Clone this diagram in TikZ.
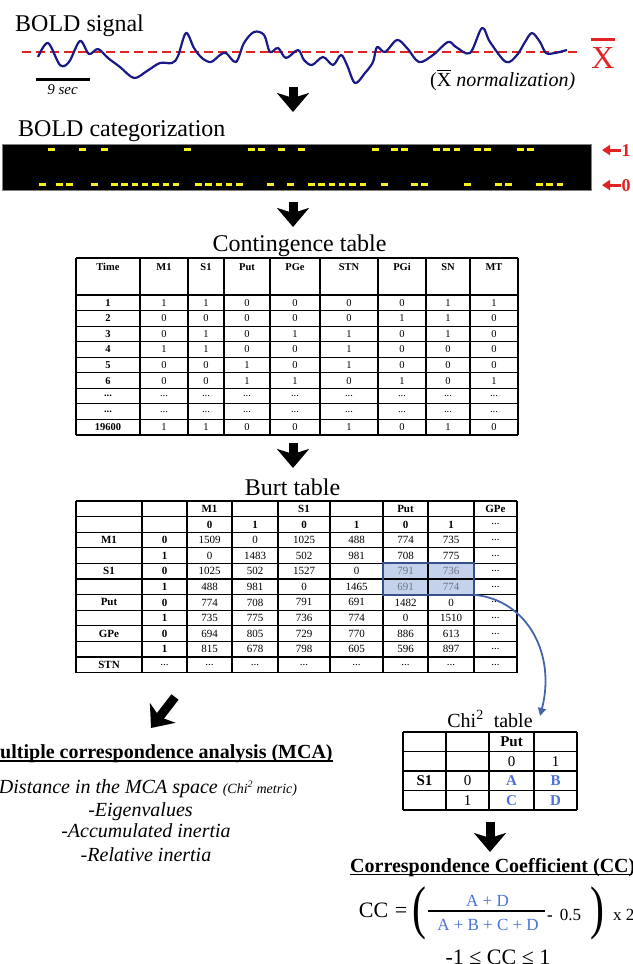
\documentclass[tikz,border=0pt]{standalone}
\usepackage{fontspec}
\usepackage{graphicx}
\setmainfont{Liberation Serif}
\usetikzlibrary{positioning,calc,arrows.meta}
\definecolor{SignalNavy}{RGB}{25,25,135}
\definecolor{MeanRed}{RGB}{225,35,35}
\definecolor{CatYellow}{RGB}{245,240,30}
\definecolor{LinkBlue}{RGB}{70,100,170}
\definecolor{CellBlue}{RGB}{196,210,236}
\definecolor{FrameBlue}{RGB}{55,80,140}
\definecolor{DimGray}{RGB}{110,115,130}
\definecolor{LetterBlue}{RGB}{75,115,215}
\newcommand{\fsz}[1]{\fontsize{#1}{#1}\selectfont}
\newcommand{\elide}{...}
\newcommand{\dimv}[1]{\textcolor{DimGray}{#1}}
\newcommand{\abcd}[1]{\textbf{\textcolor{LetterBlue}{#1}}}
\newcommand{\meanX}[2]{\vbox{\hrule height #1\kern #2\hbox{X}}}
\newcommand{\colx}[2]{\csname #1col#2\endcsname}

\begin{document}
\begin{tikzpicture}[
    x=1pt, y=-1pt,
    lbl/.style={inner sep=0pt, anchor=base},
    cell/.style={inner sep=0pt, font=\fsz{10.5}},
    grid/.style={line width=1.1pt},
    bigparen/.style={inner sep=0pt, font=\fsz{38}},
    bigarrow/.style={-{Stealth[length=19pt,width=32pt,inset=5pt]}, line width=9pt},
    levelarrow/.style={-{Triangle[length=8pt,width=10pt]}, line width=3pt, draw=MeanRed},
    linkarrow/.style={-{Triangle[length=8pt,width=8pt]}, line width=1.8pt, draw=LinkBlue},
    catdash/.style={draw=CatYellow, line width=3pt, dash pattern=on 6.5pt off 3.8pt}
]
\useasboundingbox (0,0) rectangle (632,964);
\clip (0,0) rectangle (632,964);

\foreach \xc [count=\c] in {108,164,206,247,295,349,402,448,494}
    {\expandafter\xdef\csname ctcol\c\endcsname{\xc}}
\foreach \xc [count=\c] in {109,164.5,209.5,255,304,356.5,405.5,451,495.5}
    {\expandafter\xdef\csname btcol\c\endcsname{\xc}}
\foreach \xc [count=\c] in {424.5,467.5,511.5,555.5}
    {\expandafter\xdef\csname chcol\c\endcsname{\xc}}

\node[lbl, anchor=base west, font=\fsz{24}] (sigtitle) at (15,31) {BOLD signal};
\draw[MeanRed, line width=2pt, dash pattern=on 9pt off 5pt] (22,52) -- (577,52);
\draw[SignalNavy, line width=2.2pt, line join=round] plot[smooth, tension=0.55] coordinates {
    (38,57) (48,43) (60,65) (69,62) (80,41) (89,54) (98,49) (108,58) (120,67) (134,78)
    (147,71) (160,63) (172,63) (178,56) (186,33) (194,48) (202,58) (211,62) (220,55) (226,53)
    (236,62) (244,43) (254,32) (264,35) (270,52) (278,48) (286,58) (298,50) (304,60) (312,65)
    (323,57) (333,65) (341,55) (347,65) (355,83) (365,73) (373,62) (377,47) (385,52) (397,40)
    (407,48) (419,62) (433,55) (448,42) (456,47) (470,53) (482,28) (490,42) (506,62) (517,55)
    (525,42) (532,33) (540,42) (546,53) (555,53) (567,50)};
\node[lbl, font=\fsz{32}, text=MeanRed] (xbar) at (603,68) {\meanX{3pt}{6pt}};
\draw[line width=3pt] (36,79) -- (90,79);
\node[lbl, font=\fsz{15}\itshape] (tsec) at (62.5,94) {9 sec};
\node[lbl, anchor=base west, font=\fsz{20}] (norm) at (430,86) {(\meanX{1.3pt}{1.5pt} \textit{normalization)}};

\coordinate (a1s) at (293,87);
\coordinate (a1e) at (293,112);
\draw[bigarrow] (a1s) -- (a1e);

\node[lbl, anchor=base west, font=\fsz{24}] (cattitle) at (18,136) {BOLD categorization};
\node[draw=gray, fill=black, line width=0.6pt, minimum width=589pt, minimum height=46pt, inner sep=0pt] (band) at (296.5,167) {};
\foreach \s/\n in {48/1,79/1,101/1,184/1,248/2,278/1,298/1,372/1,391/2,433/3,474/2,517/2}
    \draw[catdash] (\s,149) -- ({\s+10.3*(\n-1)+6.5},149);
\foreach \s/\n in {39/1,56/2,91/1,111/7,195/5,267/1,287/1,308/6,381/1,411/2,464/1,495/2,536/3}
    \draw[catdash] (\s,184) -- ({\s+10.3*(\n-1)+6.5},184);
\node[lbl, anchor=base west, font=\fsz{18}\bfseries, text=MeanRed] (lvlone) at (621.5,156) {1};
\node[lbl, anchor=base west, font=\fsz{18}\bfseries, text=MeanRed] (lvlzero) at (621.5,191) {0};
\coordinate (tipone) at (602,150);
\coordinate (tipzero) at (602,185);
\draw[levelarrow] ([xshift=-1pt]lvlone.west) -- (tipone |- lvlone.west);
\draw[levelarrow] ([xshift=-1pt]lvlzero.west) -- (tipzero |- lvlzero.west);

\coordinate (a2s) at (293,202);
\coordinate (a2e) at (293,227);
\draw[bigarrow] (a2s) -- (a2e);

\node[lbl, font=\fsz{24}] (cttitle) at (299.5,251) {Contingence table};
\foreach \x in {76,140,188,224,270,320,378,426,470,518}
    \draw[grid] (\x,258) -- (\x,435);
\draw[grid] (76,258) -- (518,258);
\foreach \i in {0,...,9}
    \draw[grid] (76,{295+15.56*\i}) -- (518,{295+15.56*\i});
\foreach \v [count=\c] in {Time,M1,S1,Put,PGe,STN,PGi,SN,MT} {
    \edef\xc{\colx{ct}{\c}}
    \node[cell, font=\fsz{10.5}\bfseries] (ct-0-\c) at (\xc,267) {\v};
}
\foreach \rowdata [count=\r] in {
    {\textbf{1},1,1,0,0,0,0,1,1},
    {\textbf{2},0,0,0,0,0,1,1,0},
    {\textbf{3},0,1,0,1,1,0,1,0},
    {\textbf{4},1,1,0,0,1,0,0,0},
    {\textbf{5},0,0,1,0,1,0,0,0},
    {\textbf{6},0,0,1,1,0,1,0,1},
    {\textbf{\elide},\elide,\elide,\elide,\elide,\elide,\elide,\elide,\elide},
    {\textbf{\elide},\elide,\elide,\elide,\elide,\elide,\elide,\elide,\elide},
    {\textbf{19600},1,1,0,0,1,0,1,0}} {
    \foreach \v [count=\c] in \rowdata {
        \edef\xc{\colx{ct}{\c}}
        \node[cell] (ct-\r-\c) at (\xc,{295+15.56*(\r-0.5)}) {\v};
    }
}

\coordinate (a3s) at (293,443);
\coordinate (a3e) at (293,468);
\draw[bigarrow] (a3s) -- (a3e);

\node[lbl, font=\fsz{24}] (bttitle) at (292.5,495) {Burt table};
\node[fill=CellBlue, minimum width=91pt, minimum height=31.2pt, inner sep=0pt] (hl) at (428.5,579) {};
\foreach \x in {76,142,187,232,278,330,383,428,474,517}
    \draw[grid] (\x,501) -- (\x,672.6);
\foreach \i in {0,...,11}
    \draw[grid] (76,{501+15.6*\i}) -- (517,{501+15.6*\i});
\foreach \rowdata [count=\r] in {
    {{},{},\textbf{M1},{},\textbf{S1},{},\textbf{Put},{},\textbf{GPe}},
    {{},{},\textbf{0},\textbf{1},\textbf{0},\textbf{1},\textbf{0},\textbf{1},\elide},
    {\textbf{M1},\textbf{0},1509,0,1025,488,774,735,\elide},
    {{},\textbf{1},0,1483,502,981,708,775,\elide},
    {\textbf{S1},\textbf{0},1025,502,1527,0,\dimv{791},\dimv{736},\elide},
    {{},\textbf{1},488,981,0,1465,\dimv{691},\dimv{774},\elide},
    {\textbf{Put},\textbf{0},774,708,791,691,1482,0,\elide},
    {{},\textbf{1},735,775,736,774,0,1510,\elide},
    {\textbf{GPe},\textbf{0},694,805,729,770,886,613,\elide},
    {{},\textbf{1},815,678,798,605,596,897,\elide},
    {\textbf{STN},\elide,\elide,\elide,\elide,\elide,\elide,\elide,\elide}} {
    \foreach \v [count=\c] in \rowdata {
        \edef\xc{\colx{bt}{\c}}
        \node[cell, font=\fsz{11}] (bt-\r-\c) at (\xc,{501+15.6*(\r-0.5)}) {\v};
    }
}
\draw[FrameBlue, line width=2pt] (hl.north west) rectangle (hl.south east);

\coordinate (chitip) at (540,716);
\draw[linkarrow] (hl.south east) .. controls (528,600) and (556,655) .. (chitip);

\coordinate (a4s) at (175,697);
\coordinate (a4e) at (151,728);
\draw[bigarrow] (a4s) -- (a4e);

\node[lbl, font=\fsz{20}\bfseries] (mcatitle) at (157,758) {Multiple correspondence analysis (MCA)};
\draw[line width=1.6pt] ([yshift=-3pt]mcatitle.base west) -- ([yshift=-3pt]mcatitle.base east);
\node[lbl, font=\fsz{20}\itshape] (mcadist) at (148,793) {Distance in the MCA space {\fsz{14}(Chi\textsuperscript{2} metric)}};
\node[lbl, font=\fsz{20}\itshape] (mcaeig) at (140.5,816.5) {-Eigenvalues};
\node[lbl, font=\fsz{20}\itshape] (mcaacc) at (146,837) {-Accumulated inertia};
\node[lbl, font=\fsz{20}\itshape] (mcarel) at (146,861) {-Relative inertia};

\node[lbl, font=\fsz{20}] (chititle) at (490,727) {Chi\textsuperscript{2}\ \ table};
\foreach \x in {403,446,489,534,577}
    \draw[grid] (\x,732) -- (\x,810);
\foreach \i in {0,...,4}
    \draw[grid] (403,{732+19.5*\i}) -- (577,{732+19.5*\i});
\foreach \rowdata [count=\r] in {
    {{},{},\textbf{Put},{}},
    {{},{},0,1},
    {\textbf{S1},0,\abcd{A},\abcd{B}},
    {{},1,\abcd{C},\abcd{D}}} {
    \foreach \v [count=\c] in \rowdata {
        \edef\xc{\colx{ch}{\c}}
        \node[cell, font=\fsz{15}] (ch-\r-\c) at (\xc,{732+19.5*(\r-0.5)}) {\v};
    }
}

\coordinate (a5s) at (490,822);
\coordinate (a5e) at (490,852);
\draw[bigarrow] (a5s) -- (a5e);

\node[lbl, anchor=base west, font=\fsz{20}\bfseries] (cctitle) at (350,872) {Correspondence Coefficient (CC)};
\draw[line width=1.6pt] ([yshift=-2.5pt]cctitle.base west) -- ([yshift=-2.5pt]cctitle.base east);
\node[lbl, font=\fsz{22}] (cclhs) at (373.5,917) {CC};
\node[lbl, font=\fsz{22}] (cceq) at (401,917) {=};
\node[bigparen] (lpar) at (419,913.5) {\scalebox{1.1}[1.55]{(}};
\node[lbl, font=\fsz{17}, text=LetterBlue] (ccnum) at (487.5,906) {A + D};
\draw[line width=2.2pt] (428,911) -- (545,911);
\node[lbl, font=\fsz{17}, text=LetterBlue] (ccden) at (488,930) {A + B + C + D};
\node[lbl, anchor=base west, font=\fsz{17}] (cchalf) at (547,920) {\textbf{-}\hspace{7pt}0.5};
\node[bigparen] (rpar) at (597,913.5) {\scalebox{1.1}[1.55]{)}};
\node[lbl, anchor=base west, font=\fsz{17}] (cctwo) at (613,920) {x 2};
\node[lbl, font=\fsz{22}] (ccrange) at (498,964) {-1 ≤ CC ≤ 1};

\end{tikzpicture}
\end{document}
